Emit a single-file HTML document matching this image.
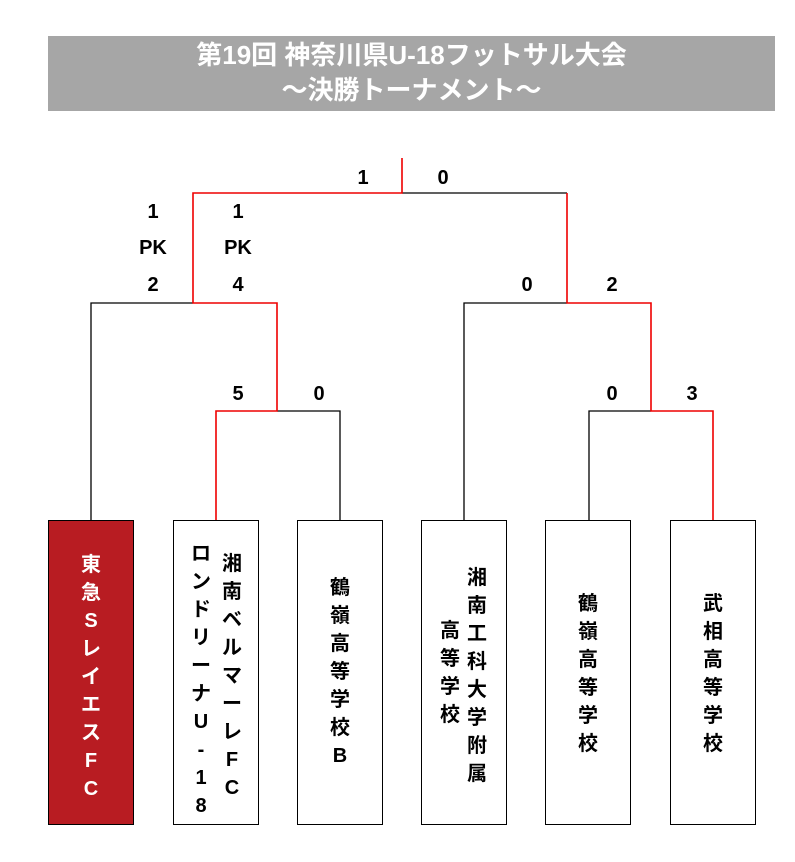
<!DOCTYPE html>
<html><head><meta charset="utf-8"><style>
body{margin:0;width:795px;height:862px;background:#fff;position:relative;overflow:hidden;font-family:"Liberation Sans","Noto Sans CJK JP",sans-serif;font-weight:bold}
.t{position:absolute;left:48px;top:36px;width:727px;height:75px;background:#a6a6a6;color:#fff;font-size:26px;text-align:center;line-height:35px;padding-top:2px;box-sizing:border-box}
.box{position:absolute;top:520px;width:86px;height:305px;border:1.5px solid #000;box-sizing:border-box;background:#fff}
.col{position:absolute;width:30px;font-size:20px;text-align:center}
.col div{height:28px;line-height:28px}
.s{position:absolute;font-size:20px;width:40px;margin-left:-20px;text-align:center;line-height:20px}
</style></head><body>
<div class="t">第19回 神奈川県U-18フットサル大会<br>～決勝トーナメント～</div>
<svg width="795" height="862" style="position:absolute;left:0;top:0">
<g stroke="#000" stroke-width="1.3" fill="none">
<path d="M91 520V303H193"/>
<path d="M277 411H340V520"/>
<path d="M402 193H567"/>
<path d="M464 520V303H567"/>
<path d="M589 520V411H651"/>
</g>
<g stroke="#e00" stroke-width="1.6" fill="none">
<path d="M216 520V411H277V303H193V193H402V158"/>
<path d="M567 193V303H651V411H713V520"/>
</g>
</svg>
<div class="box" style="left:48px;background:#b81c22"></div>
<div class="box" style="left:173px"></div>
<div class="box" style="left:297px"></div>
<div class="box" style="left:421px"></div>
<div class="box" style="left:545px"></div>
<div class="box" style="left:670px"></div>
<div class="col" style="left:76px;top:551px;color:#fff"><div>東</div><div>急</div><div>S</div><div>レ</div><div>イ</div><div>エ</div><div>ス</div><div>F</div><div>C</div></div>
<div class="col" style="left:217px;top:550px"><div>湘</div><div>南</div><div>ベ</div><div>ル</div><div>マ</div><div>ー</div><div>レ</div><div>F</div><div>C</div></div>
<div class="col" style="left:186px;top:540px"><div>ロ</div><div>ン</div><div>ド</div><div>リ</div><div>ー</div><div>ナ</div><div>U</div><div>-</div><div>1</div><div>8</div></div>
<div class="col" style="left:325px;top:574px"><div>鶴</div><div>嶺</div><div>高</div><div>等</div><div>学</div><div>校</div><div>B</div></div>
<div class="col" style="left:462px;top:564px"><div>湘</div><div>南</div><div>工</div><div>科</div><div>大</div><div>学</div><div>附</div><div>属</div></div>
<div class="col" style="left:435px;top:617px"><div>高</div><div>等</div><div>学</div><div>校</div></div>
<div class="col" style="left:573px;top:590px"><div>鶴</div><div>嶺</div><div>高</div><div>等</div><div>学</div><div>校</div></div>
<div class="col" style="left:698px;top:590px"><div>武</div><div>相</div><div>高</div><div>等</div><div>学</div><div>校</div></div>
<div class="s" style="left:363px;top:168px">1</div>
<div class="s" style="left:443px;top:168px">0</div>
<div class="s" style="left:153px;top:202px">1</div>
<div class="s" style="left:153px;top:238px">PK</div>
<div class="s" style="left:153px;top:275px">2</div>
<div class="s" style="left:238px;top:202px">1</div>
<div class="s" style="left:238px;top:238px">PK</div>
<div class="s" style="left:238px;top:275px">4</div>
<div class="s" style="left:527px;top:275px">0</div>
<div class="s" style="left:612px;top:275px">2</div>
<div class="s" style="left:238px;top:384px">5</div>
<div class="s" style="left:319px;top:384px">0</div>
<div class="s" style="left:612px;top:384px">0</div>
<div class="s" style="left:692px;top:384px">3</div>
</body></html>
